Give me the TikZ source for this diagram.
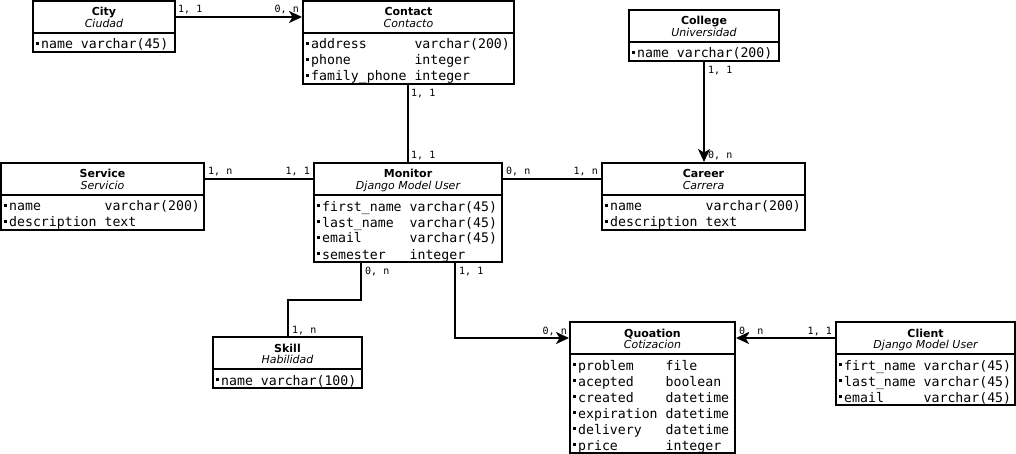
\documentclass[tikz,border=0pt]{standalone}
\usepackage{fontspec}
\setmainfont{DejaVu Sans}
\setmonofont{DejaVu Sans Mono}
\usetikzlibrary{arrows.meta,fit}
% #1 name, #2 left, #3 top, #4 right, #5 separator y, #6 rows, #7 title, #8 subtitle, #9 tabular body
\newcommand\erent[9]{%
  \pgfmathsetmacro\erB{#5+16*#6+3}%
  \pgfmathsetmacro\erC{(#2+#4)/2}%
  \node[ent, fit={(#2,#3) (#4,\erB)}] (#1) {};
  \draw[ln] (#2,#5) -- (#4,#5);
  \node[ttl] (#1-t) at (\erC,#3+15) {#7};
  \node[sub] (#1-s) at (\erC,#3+26.5) {#8};
  \node[attr] (#1-a) at (#2+8,#5+4.6) {\begin{tabular}{@{}l@{\ }l@{}}#9\end{tabular}};
  \foreach \i in {1,...,#6} \fill (#2+2.5,#5-7+16*\i) rectangle ++(3,3);
}
\begin{document}
\begin{tikzpicture}[x=1pt,y=-1pt,
  ent/.style={draw,line width=2pt,inner sep=0pt},
  ln/.style={line width=2pt},
  ttl/.style={font=\bfseries\fontsize{11}{13}\selectfont,inner sep=0pt,anchor=base},
  sub/.style={font=\itshape\fontsize{11}{13}\selectfont,inner sep=0pt,anchor=base},
  attr/.style={font=\ttfamily\fontsize{13.2}{16}\selectfont,inner sep=0pt,anchor=north west},
  conn/.style={line width=2pt},
  arr/.style={-{Stealth[length=13pt,width=12pt,inset=3.5pt]}},
  lbl/.style={font=\ttfamily\fontsize{10}{12}\selectfont,inner sep=0pt},
  lw/.style={lbl,anchor=base west},
  le/.style={lbl,anchor=base east}]
\useasboundingbox (0,0) rectangle (1016,454);

\erent{city}{33}{1}{175}{33}{1}{City}{Ciudad}{name & varchar(45)}
\erent{contact}{303}{1}{514}{33}{3}{Contact}{Contacto}{address & varchar(200)\\ phone & integer\\ family\_phone & integer}
\erent{college}{629}{10}{779}{42}{1}{College}{Universidad}{name & varchar(200)}
\erent{service}{1}{163}{204}{195}{2}{Service}{Servicio}{name & varchar(200)\\ description & text}
\erent{monitor}{314}{163}{502}{195}{4}{Monitor}{Django Model User}{first\_name & varchar(45)\\ last\_name & varchar(45)\\ email & varchar(45)\\ semester & integer}
\erent{career}{602}{163}{805}{195}{2}{Career}{Carrera}{name & varchar(200)\\ description & text}
\erent{skill}{213}{337}{362}{369}{1}{Skill}{Habilidad}{name & varchar(100)}
\erent{quoation}{570}{322}{735}{354}{6}{Quoation}{Cotizacion}{problem & file\\ acepted & boolean\\ created & datetime\\ expiration & datetime\\ delivery & datetime\\ price & integer}
\erent{client}{836}{322}{1015}{354}{3}{Client}{Django Model User}{firt\_name & varchar(45)\\ last\_name & varchar(45)\\ email & varchar(45)}

% connectors
\draw[conn,arr] (city.east |- 0,17) -- (contact.west |- 0,17);
\draw[conn] (contact.south -| 408,0) -- (monitor.north -| 408,0);
\draw[conn,arr] (college.south -| 704,0) -- (career.north -| 704,0);
\draw[conn] (service.east |- 0,179) -- (monitor.west |- 0,179);
\draw[conn] (monitor.east |- 0,179) -- (career.west |- 0,179);
\coordinate (ms1) at (361,300);
\coordinate (ms2) at (288,300);
\draw[conn] (monitor.south -| ms1) -- (ms1) -- (ms2) -- (skill.north -| ms2);
\coordinate (mq) at (455,338);
\draw[conn,arr] (monitor.south -| mq) -- (mq) -- (quoation.west |- mq);
\draw[conn,arr] (client.west |- mq) -- (quoation.east |- mq);

% cardinality labels
\node[lw] (l1) at (178,13) {1, 1};
\node[le] (l2) at (299,13) {0, n};
\node[lw] (l3) at (411,97) {1, 1};
\node[lw] (l4) at (411,159) {1, 1};
\node[lw] (l5) at (708,74) {1, 1};
\node[lw] (l6) at (708,159) {0, n};
\node[lw] (l7) at (208,175) {1, n};
\node[le] (l8) at (310,175) {1, 1};
\node[lw] (l9) at (506,175) {0, n};
\node[le] (l10) at (598,175) {1, n};
\node[lw] (l11) at (365,274) {0, n};
\node[lw] (l12) at (292,333) {1, n};
\node[lw] (l13) at (459,274) {1, 1};
\node[le] (l14) at (567,334) {0, n};
\node[lw] (l15) at (739,334) {0, n};
\node[le] (l16) at (832,334) {1, 1};
\end{tikzpicture}
\end{document}
